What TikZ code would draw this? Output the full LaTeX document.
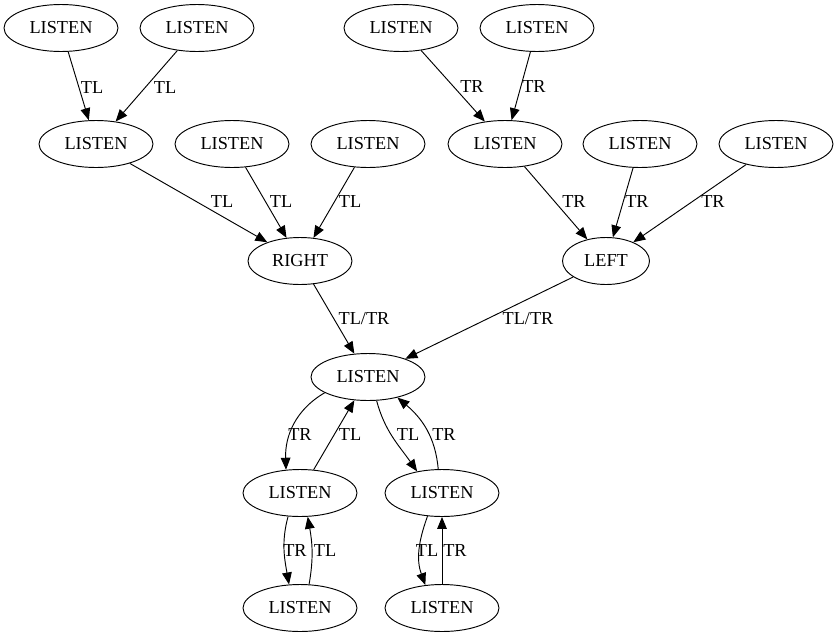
\documentclass[tikz,border=0pt]{standalone}
\usepackage{fontspec}
\setmainfont{Liberation Serif}
\usepackage{tikz}
\usetikzlibrary{arrows.meta,shapes.geometric}

\newcommand{\statefont}{\fontsize{15.6}{18}\selectfont}

\tikzset{
  state/.style={draw, ellipse, line width=0.8pt, minimum width=3.42cm,
    minimum height=1.41cm, inner sep=0pt, font=\statefont},
  lbl/.style={font=\statefont, inner sep=0pt},
  arr/.style={-{Triangle[length=0.36cm,width=0.29cm]}, line width=0.8pt}
}

\begin{document}
\begin{tikzpicture}[x=0.03cm, y=-0.03cm]
\useasboundingbox (0,0) rectangle (838,639);

% top row
\node[state] (a1) at (61,28) {LISTEN};
\node[state] (a2) at (197,28) {LISTEN};
\node[state] (a3) at (401,28) {LISTEN};
\node[state] (a4) at (537,28) {LISTEN};

% second row
\node[state] (b1) at (96,144) {LISTEN};
\node[state] (b2) at (232,144) {LISTEN};
\node[state] (b3) at (368,144) {LISTEN};
\node[state] (b4) at (505,144) {LISTEN};
\node[state] (b5) at (640,144) {LISTEN};
\node[state] (b6) at (776,144) {LISTEN};

\node[state, minimum width=3.12cm] (right) at (300,261) {RIGHT};
\node[state, minimum width=2.61cm] (left) at (606,261) {LEFT};

\node[state] (hub) at (368,377) {LISTEN};

\node[state] (c1) at (300,493) {LISTEN};
\node[state] (c2) at (442,493) {LISTEN};
\node[state] (d1) at (300,608) {LISTEN};
\node[state] (d2) at (442,608) {LISTEN};

% edges
\draw[arr] (a1) -- (b1) node[lbl, at={(92,88)}] {TL};
\draw[arr] (a2) -- (b1) node[lbl, at={(165,88)}] {TL};
\draw[arr] (a3) -- (b4) node[lbl, at={(472,87)}] {TR};
\draw[arr] (a4) -- (b4) node[lbl, at={(534,87)}] {TR};

\draw[arr] (b1) -- (right) node[lbl, at={(222,202)}] {TL};
\draw[arr] (b2) -- (right) node[lbl, at={(281,202)}] {TL};
\draw[arr] (b3) -- (right) node[lbl, at={(350,202)}] {TL};
\draw[arr] (b4) -- (left) node[lbl, at={(574,202)}] {TR};
\draw[arr] (b5) -- (left) node[lbl, at={(637,202)}] {TR};
\draw[arr] (b6) -- (left) node[lbl, at={(713,202)}] {TR};

\draw[arr] (right) -- (hub) node[lbl, at={(364,319)}] {TL/TR};
\draw[arr] (left) -- (hub) node[lbl, at={(528,319)}] {TL/TR};

% loops below
\draw[arr] (hub.200) to[out=210, in=92] (c1.121) node[lbl, at={(300,435)}] {TR};
\draw[arr] (c1) -- (hub) node[lbl, at={(350,435)}] {TL};
\draw[arr] (hub.290) to[out=285, in=125] (c2.139) node[lbl, at={(408,435)}] {TL};
\draw[arr] (c2.99) to[out=95, in=-40] (hub.325) node[lbl, at={(444,435)}] {TR};

\draw[arr] (c1.243) to[out=255, in=100] (d1.115) node[lbl, at={(295,551)}] {TR};
\draw[arr] (d1.69) to[out=80, in=280] (c1.288) node[lbl, at={(325,551)}] {TL};
\draw[arr] (c2.238) to[out=250, in=110] (d2.126) node[lbl, at={(427,551)}] {TL};
\draw[arr] (d2) -- (c2) node[lbl, at={(455,551)}] {TR};
\end{tikzpicture}
\end{document}
